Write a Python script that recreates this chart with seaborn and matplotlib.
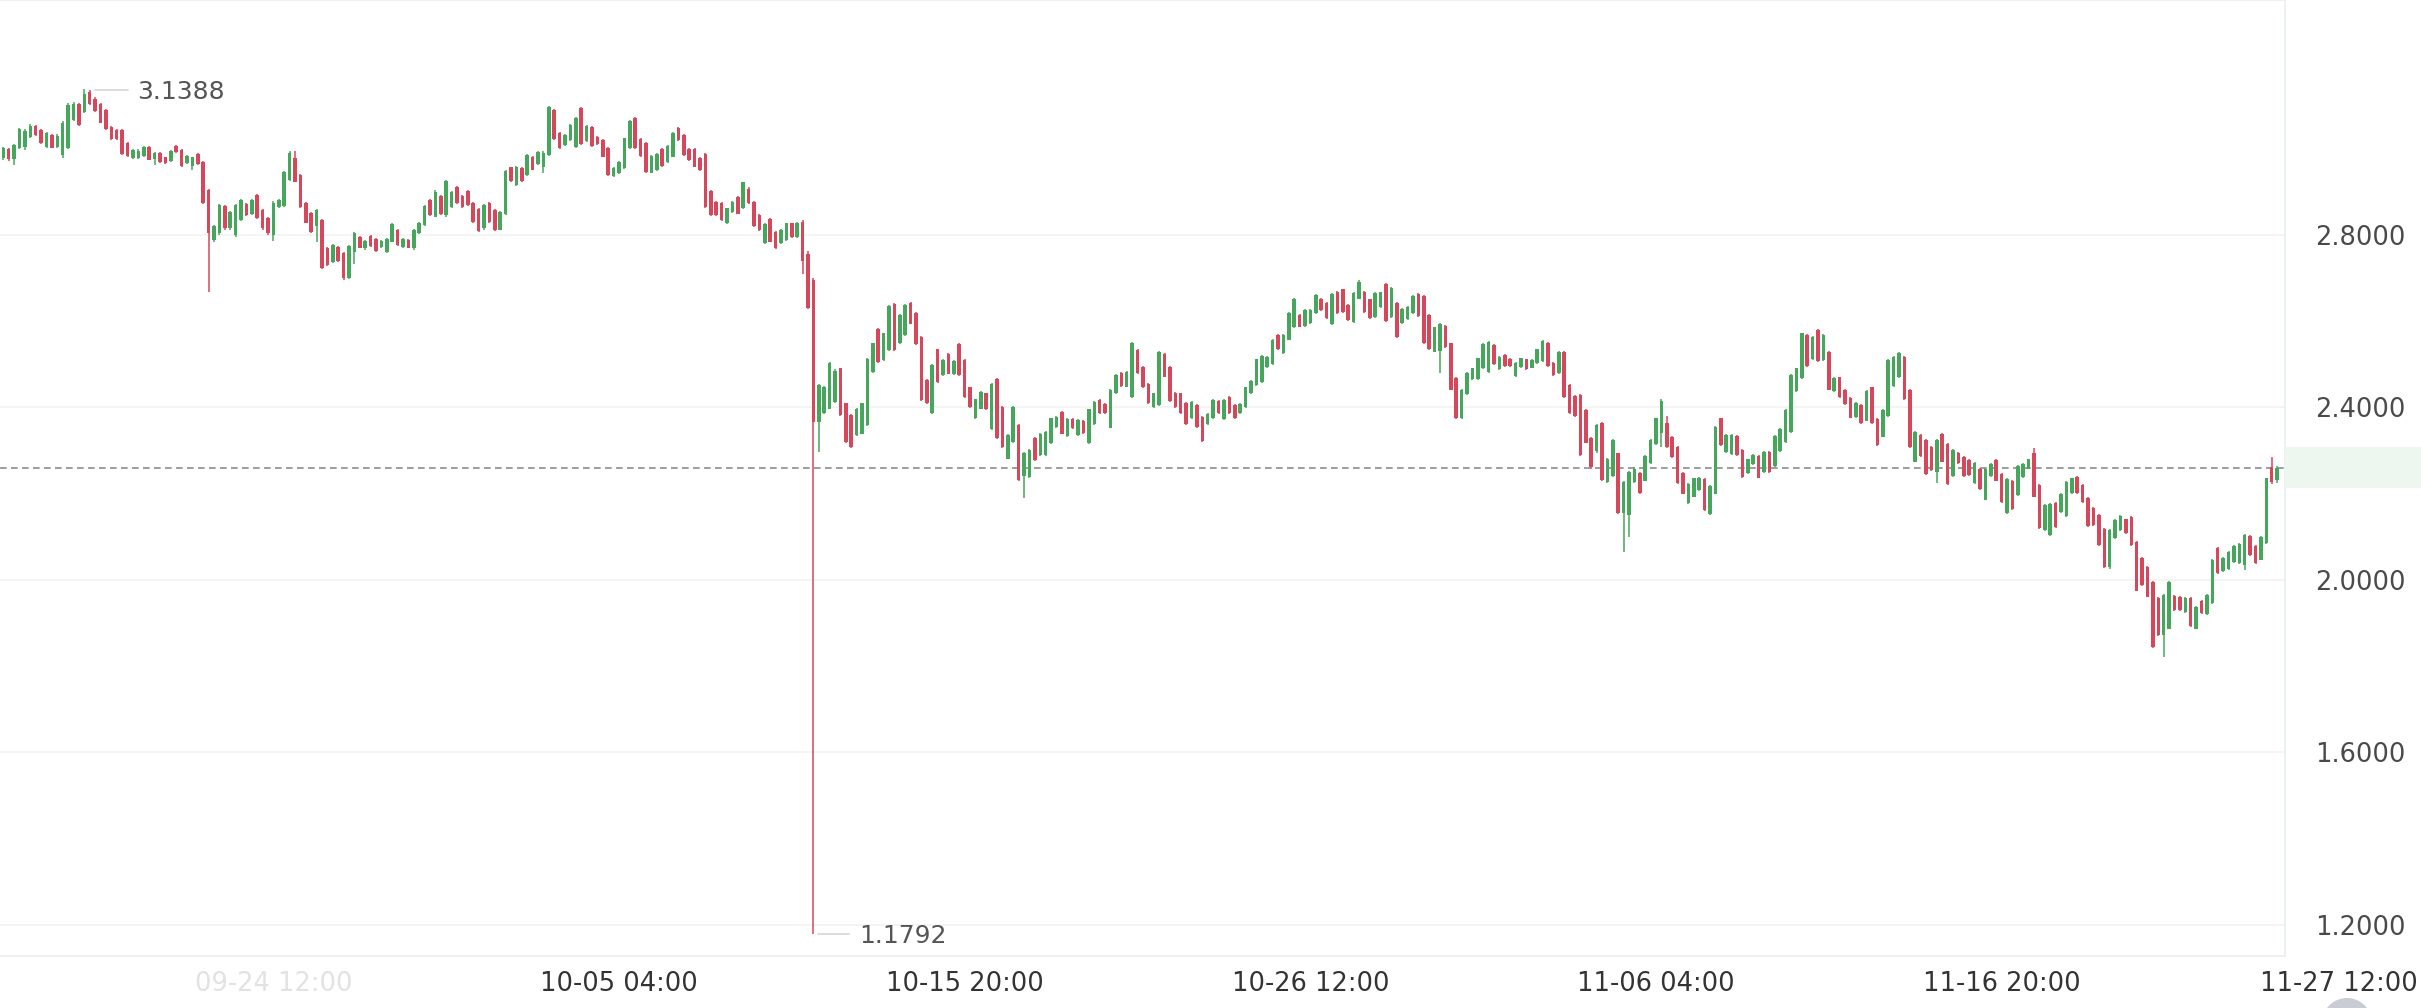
import numpy as np
import pandas as pd
import seaborn as sns
import matplotlib
matplotlib.use("Agg")
import matplotlib.pyplot as plt
import matplotlib.transforms as mtransforms
from matplotlib.patches import Ellipse, Rectangle

# 4h candles
opens = [
    2.977, 2.998, 2.975, 3.000, 3.004, 3.027, 3.053, 3.043, 3.004, 3.031,
    3.004, 2.985, 3.002, 3.066, 3.103, 3.085, 3.130, 3.115, 3.103, 3.089,
    3.050, 3.043, 3.043, 3.012, 2.977, 2.977, 2.983, 3.004, 2.975, 2.989,
    2.979, 2.971, 3.006, 2.996, 2.967, 2.960, 2.987, 2.969, 2.904, 2.788,
    2.803, 2.866, 2.815, 2.800, 2.834, 2.871, 2.849, 2.892, 2.857, 2.838,
    2.800, 2.865, 2.867, 2.927, 2.977, 2.938, 2.874, 2.851, 2.820, 2.834,
    2.768, 2.737, 2.772, 2.757, 2.700, 2.760, 2.795, 2.768, 2.797, 2.791,
    2.771, 2.760, 2.784, 2.811, 2.772, 2.788, 2.770, 2.803, 2.822, 2.880,
    2.842, 2.890, 2.846, 2.865, 2.910, 2.890, 2.902, 2.873, 2.859, 2.815,
    2.874, 2.857, 2.812, 2.849, 2.956, 2.915, 2.954, 2.938, 2.981, 2.964,
    2.958, 2.985, 3.089, 3.036, 3.008, 3.019, 3.004, 3.093, 3.018, 3.050,
    3.027, 3.019, 3.002, 2.936, 2.942, 2.954, 3.000, 3.070, 3.021, 3.013,
    2.944, 2.950, 2.998, 2.969, 2.981, 3.047, 3.031, 2.998, 2.998, 2.977,
    2.987, 2.902, 2.876, 2.874, 2.826, 2.853, 2.888, 2.861, 2.907, 2.876,
    2.846, 2.781, 2.836, 2.807, 2.780, 2.788, 2.826, 2.795, 2.830, 2.755,
    2.696, 2.366, 2.386, 2.397, 2.413, 2.490, 2.409, 2.383, 2.335, 2.339,
    2.359, 2.482, 2.581, 2.509, 2.533, 2.639, 2.548, 2.567, 2.642, 2.618,
    2.562, 2.463, 2.387, 2.534, 2.475, 2.523, 2.477, 2.547, 2.509, 2.446,
    2.374, 2.397, 2.432, 2.349, 2.465, 2.400, 2.281, 2.320, 2.359, 2.240,
    2.239, 2.328, 2.289, 2.289, 2.316, 2.355, 2.390, 2.333, 2.372, 2.335,
    2.369, 2.316, 2.362, 2.417, 2.407, 2.353, 2.432, 2.480, 2.448, 2.424,
    2.533, 2.494, 2.454, 2.401, 2.405, 2.523, 2.494, 2.434, 2.432, 2.410,
    2.374, 2.405, 2.378, 2.361, 2.374, 2.415, 2.372, 2.423, 2.405, 2.386,
    2.401, 2.432, 2.451, 2.459, 2.494, 2.500, 2.567, 2.525, 2.557, 2.585,
    2.614, 2.588, 2.596, 2.618, 2.652, 2.641, 2.593, 2.668, 2.673, 2.637,
    2.598, 2.652, 2.668, 2.650, 2.610, 2.633, 2.686, 2.610, 2.642, 2.596,
    2.604, 2.618, 2.662, 2.658, 2.614, 2.529, 2.530, 2.588, 2.548, 2.467,
    2.374, 2.431, 2.465, 2.465, 2.490, 2.482, 2.544, 2.488, 2.521, 2.513,
    2.472, 2.494, 2.511, 2.492, 2.503, 2.508, 2.550, 2.502, 2.480, 2.529,
    2.451, 2.426, 2.428, 2.393, 2.328, 2.299, 2.363, 2.227, 2.240, 2.293,
    2.155, 2.150, 2.227, 2.247, 2.230, 2.271, 2.315, 2.340, 2.363, 2.332,
    2.308, 2.247, 2.177, 2.193, 2.208, 2.233, 2.152, 2.200, 2.374, 2.297,
    2.292, 2.333, 2.301, 2.248, 2.268, 2.287, 2.250, 2.297, 2.264, 2.299,
    2.320, 2.343, 2.438, 2.467, 2.567, 2.511, 2.579, 2.509, 2.529, 2.438,
    2.469, 2.440, 2.421, 2.378, 2.405, 2.369, 2.446, 2.372, 2.332, 2.380,
    2.449, 2.469, 2.517, 2.441, 2.274, 2.336, 2.325, 2.308, 2.250, 2.339,
    2.315, 2.240, 2.295, 2.285, 2.278, 2.225, 2.258, 2.186, 2.240, 2.278,
    2.245, 2.154, 2.230, 2.197, 2.239, 2.258, 2.295, 2.220, 2.115, 2.104,
    2.179, 2.158, 2.148, 2.202, 2.239, 2.220, 2.189, 2.166, 2.150, 2.117,
    2.029, 2.096, 2.115, 2.140, 2.145, 2.088, 2.050, 2.030, 1.996, 1.957,
    1.872, 1.887, 1.962, 1.961, 1.926, 1.957, 1.887, 1.952, 1.921, 1.947,
    2.073, 2.021, 2.024, 2.042, 2.038, 2.035, 2.101, 2.078, 2.047, 2.086,
    2.261, 2.232,
]
highs = [
    3.004, 3.001, 3.010, 3.047, 3.045, 3.056, 3.055, 3.045, 3.037, 3.033,
    3.033, 3.064, 3.105, 3.107, 3.105, 3.1388, 3.135, 3.120, 3.105, 3.091,
    3.052, 3.045, 3.045, 3.014, 2.998, 2.998, 3.006, 3.006, 2.992, 2.991,
    2.981, 2.996, 3.008, 2.998, 2.985, 2.981, 2.989, 2.971, 2.906, 2.822,
    2.872, 2.869, 2.856, 2.872, 2.883, 2.874, 2.883, 2.894, 2.859, 2.840,
    2.877, 2.883, 2.948, 2.995, 2.995, 2.940, 2.876, 2.853, 2.859, 2.836,
    2.772, 2.778, 2.774, 2.759, 2.776, 2.807, 2.797, 2.788, 2.799, 2.793,
    2.788, 2.793, 2.826, 2.813, 2.793, 2.790, 2.813, 2.830, 2.868, 2.883,
    2.904, 2.892, 2.927, 2.902, 2.912, 2.892, 2.904, 2.875, 2.861, 2.871,
    2.876, 2.859, 2.855, 2.950, 2.958, 2.960, 2.956, 2.987, 2.983, 2.994,
    2.994, 3.099, 3.091, 3.038, 3.033, 3.056, 3.072, 3.095, 3.054, 3.052,
    3.029, 3.021, 3.004, 2.956, 2.971, 3.025, 3.066, 3.072, 3.023, 3.015,
    2.984, 2.989, 3.000, 3.008, 3.038, 3.049, 3.033, 3.000, 3.000, 2.979,
    2.989, 2.904, 2.878, 2.876, 2.863, 2.878, 2.890, 2.923, 2.910, 2.878,
    2.848, 2.827, 2.838, 2.809, 2.814, 2.828, 2.828, 2.830, 2.834, 2.762,
    2.700, 2.455, 2.450, 2.506, 2.488, 2.492, 2.411, 2.385, 2.399, 2.411,
    2.515, 2.550, 2.583, 2.573, 2.637, 2.641, 2.616, 2.639, 2.645, 2.620,
    2.564, 2.465, 2.500, 2.536, 2.511, 2.525, 2.510, 2.549, 2.511, 2.448,
    2.420, 2.438, 2.434, 2.456, 2.467, 2.402, 2.337, 2.402, 2.361, 2.296,
    2.304, 2.330, 2.341, 2.345, 2.376, 2.380, 2.392, 2.374, 2.374, 2.372,
    2.371, 2.397, 2.415, 2.419, 2.409, 2.442, 2.477, 2.482, 2.484, 2.552,
    2.535, 2.496, 2.456, 2.434, 2.531, 2.525, 2.496, 2.436, 2.434, 2.412,
    2.415, 2.407, 2.380, 2.386, 2.419, 2.417, 2.419, 2.425, 2.407, 2.409,
    2.448, 2.463, 2.513, 2.521, 2.518, 2.559, 2.569, 2.569, 2.621, 2.654,
    2.616, 2.627, 2.627, 2.662, 2.654, 2.643, 2.664, 2.670, 2.675, 2.639,
    2.666, 2.695, 2.670, 2.652, 2.666, 2.668, 2.688, 2.678, 2.644, 2.629,
    2.635, 2.660, 2.664, 2.660, 2.616, 2.587, 2.595, 2.590, 2.550, 2.469,
    2.442, 2.482, 2.492, 2.515, 2.549, 2.554, 2.546, 2.518, 2.523, 2.515,
    2.505, 2.515, 2.513, 2.511, 2.536, 2.556, 2.552, 2.504, 2.531, 2.531,
    2.453, 2.428, 2.430, 2.395, 2.330, 2.361, 2.365, 2.283, 2.326, 2.295,
    2.229, 2.252, 2.262, 2.249, 2.289, 2.326, 2.376, 2.418, 2.380, 2.334,
    2.310, 2.249, 2.225, 2.237, 2.239, 2.235, 2.219, 2.357, 2.376, 2.338,
    2.338, 2.335, 2.303, 2.281, 2.291, 2.289, 2.299, 2.299, 2.335, 2.351,
    2.396, 2.477, 2.492, 2.573, 2.569, 2.564, 2.581, 2.569, 2.531, 2.469,
    2.471, 2.442, 2.423, 2.412, 2.407, 2.440, 2.448, 2.374, 2.396, 2.511,
    2.519, 2.527, 2.519, 2.443, 2.345, 2.338, 2.327, 2.310, 2.326, 2.341,
    2.317, 2.303, 2.297, 2.287, 2.280, 2.272, 2.260, 2.260, 2.270, 2.280,
    2.247, 2.235, 2.232, 2.266, 2.270, 2.281, 2.305, 2.222, 2.175, 2.178,
    2.181, 2.202, 2.229, 2.237, 2.241, 2.222, 2.191, 2.168, 2.152, 2.119,
    2.117, 2.141, 2.150, 2.142, 2.147, 2.090, 2.052, 2.032, 1.998, 1.959,
    1.967, 1.998, 1.964, 1.963, 1.959, 1.959, 1.940, 1.954, 1.967, 2.049,
    2.075, 2.052, 2.067, 2.080, 2.085, 2.106, 2.103, 2.080, 2.102, 2.237,
    2.284, 2.264,
]
lows = [
    2.973, 2.971, 2.962, 2.998, 2.996, 3.025, 3.029, 3.010, 3.000, 3.000,
    3.002, 2.977, 2.998, 3.064, 3.052, 3.083, 3.100, 3.085, 3.058, 3.043,
    3.019, 3.019, 2.985, 2.981, 2.975, 2.975, 2.981, 2.972, 2.962, 2.967,
    2.965, 2.969, 2.990, 2.958, 2.965, 2.950, 2.962, 2.871, 2.668, 2.784,
    2.800, 2.812, 2.812, 2.795, 2.832, 2.844, 2.846, 2.836, 2.812, 2.800,
    2.786, 2.862, 2.865, 2.925, 2.921, 2.862, 2.826, 2.805, 2.784, 2.720,
    2.728, 2.735, 2.737, 2.695, 2.697, 2.732, 2.768, 2.764, 2.772, 2.760,
    2.769, 2.758, 2.782, 2.774, 2.770, 2.768, 2.764, 2.801, 2.820, 2.844,
    2.840, 2.846, 2.840, 2.862, 2.871, 2.862, 2.867, 2.828, 2.807, 2.812,
    2.828, 2.809, 2.810, 2.846, 2.923, 2.913, 2.923, 2.936, 2.949, 2.962,
    2.942, 2.983, 3.019, 2.998, 3.006, 3.017, 3.002, 3.008, 3.016, 3.004,
    3.008, 2.979, 2.936, 2.934, 2.940, 2.952, 2.998, 2.998, 2.980, 2.944,
    2.942, 2.948, 2.957, 2.967, 2.979, 3.017, 2.983, 2.971, 2.956, 2.948,
    2.863, 2.844, 2.844, 2.832, 2.824, 2.851, 2.847, 2.859, 2.871, 2.818,
    2.809, 2.779, 2.782, 2.766, 2.778, 2.786, 2.793, 2.793, 2.710, 2.628,
    1.1792, 2.297, 2.384, 2.395, 2.411, 2.380, 2.318, 2.306, 2.333, 2.337,
    2.357, 2.480, 2.503, 2.507, 2.531, 2.531, 2.546, 2.565, 2.592, 2.545,
    2.415, 2.407, 2.385, 2.457, 2.473, 2.476, 2.475, 2.473, 2.421, 2.398,
    2.372, 2.395, 2.393, 2.347, 2.326, 2.306, 2.279, 2.318, 2.229, 2.189,
    2.237, 2.275, 2.287, 2.287, 2.314, 2.353, 2.337, 2.331, 2.349, 2.333,
    2.339, 2.314, 2.360, 2.384, 2.384, 2.351, 2.430, 2.447, 2.446, 2.422,
    2.478, 2.444, 2.408, 2.399, 2.403, 2.469, 2.413, 2.399, 2.384, 2.360,
    2.372, 2.353, 2.320, 2.359, 2.372, 2.385, 2.370, 2.385, 2.372, 2.384,
    2.399, 2.430, 2.449, 2.457, 2.492, 2.498, 2.532, 2.523, 2.555, 2.583,
    2.585, 2.586, 2.594, 2.616, 2.623, 2.604, 2.591, 2.616, 2.619, 2.600,
    2.596, 2.650, 2.619, 2.604, 2.608, 2.631, 2.598, 2.608, 2.560, 2.594,
    2.602, 2.616, 2.609, 2.546, 2.532, 2.527, 2.480, 2.537, 2.439, 2.372,
    2.372, 2.429, 2.463, 2.463, 2.488, 2.480, 2.498, 2.486, 2.493, 2.493,
    2.470, 2.492, 2.486, 2.490, 2.501, 2.506, 2.493, 2.473, 2.478, 2.422,
    2.384, 2.378, 2.287, 2.316, 2.256, 2.295, 2.229, 2.225, 2.238, 2.152,
    2.064, 2.100, 2.225, 2.200, 2.228, 2.269, 2.313, 2.308, 2.306, 2.283,
    2.223, 2.198, 2.175, 2.191, 2.206, 2.160, 2.150, 2.198, 2.310, 2.295,
    2.290, 2.287, 2.237, 2.246, 2.266, 2.235, 2.248, 2.248, 2.262, 2.297,
    2.318, 2.341, 2.436, 2.465, 2.494, 2.509, 2.506, 2.507, 2.439, 2.436,
    2.422, 2.405, 2.374, 2.376, 2.361, 2.367, 2.361, 2.310, 2.330, 2.378,
    2.447, 2.467, 2.416, 2.306, 2.272, 2.285, 2.243, 2.252, 2.225, 2.272,
    2.220, 2.238, 2.268, 2.238, 2.241, 2.223, 2.208, 2.184, 2.238, 2.228,
    2.179, 2.152, 2.161, 2.195, 2.237, 2.256, 2.191, 2.117, 2.113, 2.102,
    2.121, 2.156, 2.146, 2.200, 2.200, 2.179, 2.123, 2.125, 2.079, 2.027,
    2.026, 2.094, 2.113, 2.106, 2.079, 1.973, 1.986, 1.959, 1.843, 1.870,
    1.822, 1.885, 1.928, 1.928, 1.924, 1.891, 1.885, 1.920, 1.919, 1.945,
    2.013, 2.019, 2.022, 2.040, 2.036, 2.023, 2.055, 2.036, 2.045, 2.084,
    2.222, 2.225,
]
closes = [
    3.000, 2.975, 3.008, 3.044, 3.040, 3.053, 3.031, 3.012, 3.035, 3.002,
    3.029, 3.060, 3.100, 3.103, 3.054, 3.125, 3.103, 3.087, 3.060, 3.045,
    3.021, 3.021, 2.987, 2.983, 2.996, 2.994, 3.004, 2.974, 2.990, 2.969,
    2.967, 2.994, 2.992, 2.960, 2.983, 2.979, 2.964, 2.873, 2.803, 2.819,
    2.869, 2.815, 2.853, 2.869, 2.880, 2.846, 2.880, 2.838, 2.815, 2.803,
    2.874, 2.880, 2.946, 2.990, 2.923, 2.865, 2.828, 2.807, 2.857, 2.722,
    2.730, 2.776, 2.740, 2.700, 2.774, 2.805, 2.770, 2.786, 2.774, 2.762,
    2.786, 2.791, 2.824, 2.776, 2.791, 2.770, 2.811, 2.828, 2.866, 2.846,
    2.900, 2.849, 2.925, 2.900, 2.874, 2.865, 2.869, 2.830, 2.809, 2.869,
    2.830, 2.811, 2.853, 2.948, 2.925, 2.958, 2.925, 2.985, 2.951, 2.992,
    2.990, 3.097, 3.021, 3.000, 3.031, 3.054, 3.070, 3.010, 3.052, 3.006,
    3.010, 2.981, 2.938, 2.954, 2.969, 3.023, 3.064, 3.000, 2.982, 2.946,
    2.982, 2.987, 2.959, 3.006, 3.036, 3.019, 2.985, 2.973, 2.958, 2.950,
    2.865, 2.846, 2.846, 2.834, 2.861, 2.876, 2.849, 2.921, 2.873, 2.820,
    2.811, 2.825, 2.784, 2.768, 2.812, 2.826, 2.795, 2.828, 2.738, 2.630,
    2.366, 2.451, 2.448, 2.503, 2.485, 2.382, 2.320, 2.308, 2.397, 2.409,
    2.513, 2.548, 2.505, 2.571, 2.635, 2.533, 2.614, 2.637, 2.594, 2.547,
    2.417, 2.409, 2.498, 2.459, 2.509, 2.478, 2.508, 2.475, 2.423, 2.400,
    2.418, 2.436, 2.395, 2.454, 2.328, 2.308, 2.335, 2.400, 2.231, 2.294,
    2.302, 2.277, 2.339, 2.343, 2.374, 2.378, 2.339, 2.372, 2.351, 2.370,
    2.341, 2.395, 2.413, 2.386, 2.386, 2.440, 2.475, 2.449, 2.482, 2.550,
    2.480, 2.446, 2.410, 2.432, 2.529, 2.471, 2.415, 2.401, 2.386, 2.362,
    2.413, 2.355, 2.322, 2.384, 2.417, 2.387, 2.417, 2.387, 2.374, 2.407,
    2.446, 2.461, 2.511, 2.519, 2.516, 2.557, 2.534, 2.567, 2.619, 2.652,
    2.587, 2.625, 2.625, 2.660, 2.625, 2.606, 2.662, 2.618, 2.621, 2.602,
    2.664, 2.690, 2.621, 2.606, 2.664, 2.666, 2.600, 2.676, 2.562, 2.627,
    2.633, 2.658, 2.611, 2.548, 2.534, 2.585, 2.593, 2.539, 2.441, 2.374,
    2.440, 2.480, 2.490, 2.513, 2.547, 2.552, 2.500, 2.516, 2.495, 2.495,
    2.503, 2.513, 2.488, 2.509, 2.534, 2.554, 2.495, 2.475, 2.529, 2.424,
    2.386, 2.380, 2.289, 2.318, 2.262, 2.359, 2.231, 2.281, 2.324, 2.154,
    2.227, 2.250, 2.258, 2.202, 2.287, 2.324, 2.374, 2.415, 2.308, 2.285,
    2.225, 2.200, 2.223, 2.235, 2.237, 2.162, 2.217, 2.355, 2.312, 2.336,
    2.336, 2.289, 2.239, 2.279, 2.289, 2.237, 2.297, 2.250, 2.333, 2.349,
    2.394, 2.475, 2.490, 2.571, 2.496, 2.562, 2.508, 2.567, 2.441, 2.467,
    2.424, 2.407, 2.376, 2.410, 2.363, 2.438, 2.363, 2.312, 2.394, 2.509,
    2.517, 2.525, 2.418, 2.308, 2.343, 2.287, 2.245, 2.254, 2.324, 2.274,
    2.222, 2.301, 2.270, 2.240, 2.243, 2.270, 2.210, 2.258, 2.268, 2.230,
    2.181, 2.233, 2.163, 2.264, 2.268, 2.279, 2.193, 2.119, 2.173, 2.176,
    2.123, 2.200, 2.227, 2.235, 2.202, 2.181, 2.125, 2.127, 2.081, 2.029,
    2.115, 2.139, 2.148, 2.108, 2.081, 1.975, 1.988, 1.961, 1.845, 1.872,
    1.965, 1.996, 1.930, 1.930, 1.957, 1.893, 1.938, 1.922, 1.965, 2.047,
    2.015, 2.050, 2.065, 2.078, 2.083, 2.104, 2.057, 2.038, 2.100, 2.235,
    2.226, 2.2602,
]

tick_pos = [50, 114, 178, 242, 306, 370]
tick_labels = ['09-24 12:00', '10-05 04:00', '10-15 20:00', '10-26 12:00',
               '11-06 04:00', '11-16 20:00']
last_tick_label = '11-27 12:00'
y_ticks = [1.2, 1.6, 2.0, 2.4, 2.8]
last_price = 2.2602
max_price, max_idx = 3.1388, 15
min_price, min_idx = 1.1792, 150

assert len(opens) == len(highs) == len(lows) == len(closes)

df = pd.DataFrame({'open': opens, 'high': highs, 'low': lows, 'close': closes})
df['idx'] = np.arange(len(df))
df['up'] = df['close'] >= df['open']

GREEN = '#46a65c'
RED = '#d6475b'
TXT = '#4a4a4a'

sns.set_theme(style='white')
plt.rcParams['font.family'] = ['DejaVu Sans']

W, H = 2421, 1008
fig = plt.figure(figsize=(W / 100, H / 100), dpi=100)
ax = fig.add_axes([0, 52 / H, 2285 / W, 956 / H])

colors = np.where(df['up'], GREEN, RED)
body_lo = df[['open', 'close']].min(axis=1)
body_h = (df['close'] - df['open']).abs().clip(lower=0.004)

ax.axhline(last_price, color='#8c8c8c', lw=1.2, ls=(0, (4, 2.6)), zorder=1)
ax.vlines(df['idx'], df['low'], df['high'], colors=colors, lw=1.1, zorder=2)
ax.bar(df['idx'], body_h, bottom=body_lo, width=0.66, color=colors,
       linewidth=0, zorder=3)

ax.set_xlim(-0.61, 422.46)
ax.set_ylim(1.128, 3.344)

# y axis on the right
ax.set_yticks(y_ticks)
ax.set_yticklabels([f'{v:.4f}' for v in y_ticks])
ax.yaxis.tick_right()
ax.tick_params(axis='y', length=0, pad=22, labelsize=18.5, labelcolor=TXT)
ax.grid(axis='y', color='#f2f2f2', lw=1.2)
ax.grid(axis='x', visible=False)

# x axis
ax.set_xticks(tick_pos)
ax.set_xticklabels(tick_labels)
ax.tick_params(axis='x', length=0, pad=11, labelsize=18.5, labelcolor='#333333')
ax.get_xticklabels()[0].set_color('#e2e2e2')
# last date sits past the plot edge, flush with the right border
ax.text(1 + 133 / 2285, 0, last_tick_label,
        transform=mtransforms.offset_copy(ax.transAxes, fig=fig, y=-11, units='points'),
        ha='right', va='top', fontsize=18.5, color='#333333', clip_on=False)

ax.spines['left'].set_visible(False)
ax.spines['top'].set_color('#eeeeee')
ax.spines['bottom'].set_color('#eeeeee')
ax.spines['right'].set_color('#e8edf1')
for side in ['top', 'bottom', 'right']:
    ax.spines[side].set_linewidth(1.2)

# last price tag
fig.add_artist(Rectangle((2285 / W, (H - 488) / H), (W - 2285) / W, 41 / H,
                         transform=fig.transFigure, color='#edf7f0', lw=0))
ytrans = mtransforms.blended_transform_factory(ax.transAxes, ax.transData)
ax.text(1 + 31 / 2285, last_price, f'{last_price:.4f}', transform=ytrans,
        ha='left', va='center_baseline', fontsize=18.5, color='#3da45a',
        clip_on=False)

# max / min markers
ax.plot([max_idx + 2, max_idx + 8], [max_price - 0.003] * 2, color='#d6d6d6', lw=1.2)
ax.text(max_idx + 9.8, max_price - 0.003, f'{max_price:.4f}', ha='left',
        va='center_baseline', fontsize=18, color='#555555')
ax.plot([min_idx + 0.9, min_idx + 6.6], [min_price] * 2, color='#d6d6d6', lw=1.2)
ax.text(min_idx + 8.5, min_price, f'{min_price:.4f}', ha='left',
        va='center_baseline', fontsize=18, color='#555555')

# scroll knob peeking at the bottom
fig.add_artist(Ellipse((2347 / W, -15 / H), 50 / W, 50 / H,
                       transform=fig.transFigure, color='#c9ccd3', lw=0))

fig.savefig('out.png', dpi=100)
